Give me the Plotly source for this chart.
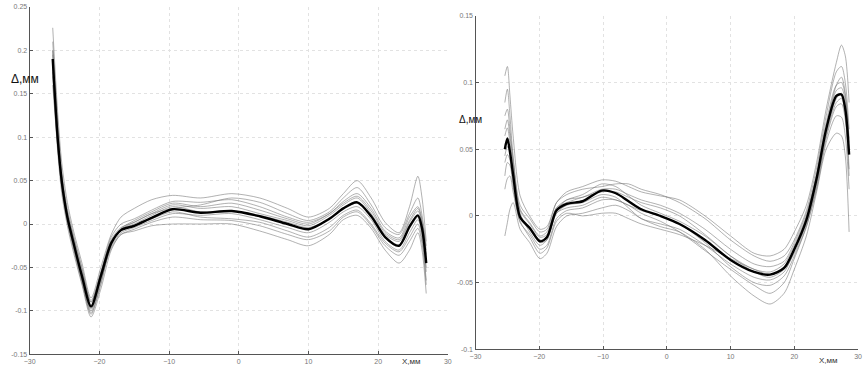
import plotly.graph_objects as go

# ---------------- Left panel data ----------------
L_X = [-26.7, -26.0, -25.4, -24.6, -23.8, -22.5, -21.2, -19.8, -18.3, -16.9, -15.0, -12.5, -9.5, -5.5,
       -1.0, 3.0, 7.0, 10.0, 13.0, 15.0, 17.0, 19.0, 21.0, 23.0, 24.5, 25.7, 26.3, 26.9]
L_MEAN = [0.19, 0.10, 0.049, 0.008, -0.019, -0.060, -0.095, -0.060, -0.022, -0.007, -0.002, 0.007, 0.017, 0.013,
          0.015, 0.009, 0.000, -0.006, 0.006, 0.018, 0.025, 0.009, -0.015, -0.025, -0.003, 0.010, -0.005, -0.045]
L1 = [0.226, 0.13, 0.07, 0.025, -0.005, -0.045, -0.085, -0.05, -0.012, 0.008, 0.018, 0.028, 0.033, 0.030,
      0.035, 0.030, 0.018, 0.008, 0.018, 0.035, 0.050, 0.030, 0.002, -0.010, 0.020, 0.055, 0.030, -0.020]
L2 = [0.17, 0.085, 0.035, -0.002, -0.030, -0.070, -0.107, -0.075, -0.030, -0.012, -0.008, -0.002, 0.000, 0.000,
      0.000, -0.008, -0.018, -0.025, -0.012, 0.005, 0.010, -0.005, -0.030, -0.045, -0.030, -0.010, -0.030, -0.080]
L3 = [0.20, 0.11, 0.055, 0.012, -0.015, -0.055, -0.090, -0.058, -0.018, -0.004, 0.002, 0.012, 0.022, 0.018,
      0.020, 0.012, 0.004, -0.002, 0.010, 0.022, 0.030, 0.012, -0.012, -0.020, 0.002, 0.015, 0.000, -0.035]
L4 = [0.18, 0.095, 0.045, 0.005, -0.022, -0.064, -0.100, -0.065, -0.026, -0.010, -0.004, 0.004, 0.012, 0.010,
      0.012, 0.005, -0.004, -0.010, 0.002, 0.014, 0.020, 0.005, -0.020, -0.030, -0.010, 0.005, -0.012, -0.055]
L5 = [0.21, 0.12, 0.060, 0.018, -0.010, -0.050, -0.088, -0.055, -0.015, 0.000, 0.006, 0.016, 0.026, 0.025,
      0.028, 0.020, 0.008, 0.002, 0.012, 0.026, 0.035, 0.018, -0.008, -0.016, 0.008, 0.020, 0.005, -0.030]
L6 = [0.185, 0.10, 0.050, 0.010, -0.018, -0.058, -0.093, -0.062, -0.020, -0.006, 0.000, 0.010, 0.020, 0.014,
      0.015, 0.010, 0.002, -0.004, 0.006, 0.018, 0.024, 0.010, -0.014, -0.024, -0.005, 0.008, -0.008, -0.050]
L7 = [0.195, 0.105, 0.045, 0.004, -0.024, -0.066, -0.104, -0.068, -0.024, -0.008, -0.002, 0.006, 0.014, 0.008,
      0.006, 0.002, -0.008, -0.015, -0.004, 0.010, 0.016, 0.000, -0.022, -0.032, -0.015, 0.000, -0.018, -0.065]
L8 = [0.175, 0.095, 0.052, 0.014, -0.012, -0.052, -0.090, -0.056, -0.020, -0.005, 0.004, 0.014, 0.024, 0.020,
      0.024, 0.016, 0.006, 0.000, 0.012, 0.024, 0.032, 0.015, -0.010, -0.018, 0.004, 0.018, 0.002, -0.040]
L9 = [0.20, 0.11, 0.048, 0.006, -0.020, -0.062, -0.098, -0.064, -0.028, -0.012, -0.006, 0.002, 0.008, 0.005,
      0.004, -0.002, -0.012, -0.018, -0.008, 0.008, 0.014, -0.002, -0.025, -0.036, -0.020, -0.005, -0.022, -0.070]
L10 = [0.16, 0.09, 0.042, 0.002, -0.026, -0.068, -0.102, -0.070, -0.022, -0.006, 0.002, 0.012, 0.018, 0.022,
       0.030, 0.025, 0.012, 0.004, 0.014, 0.030, 0.042, 0.022, -0.004, -0.012, 0.012, 0.030, 0.010, -0.025]
L_GRAY = [L1, L2, L3, L4, L5, L6, L7, L8, L9, L10]

# ---------------- Right panel data ----------------
R_X = [-25.4, -25.0, -24.6, -24.1, -23.0, -21.5, -19.9, -18.8, -17.3, -15.7, -13.2, -10.2, -8.0, -6.0, -4.0,
       -1.0, 2.0, 6.0, 10.0, 13.7, 16.2, 18.4, 20.0, 21.9, 23.5, 25.0, 26.6, 27.4, 28.0, 28.6]
R_MEAN = [0.050, 0.058, 0.048, 0.031, -0.001, -0.009, -0.019, -0.016, 0.004, 0.009, 0.011, 0.019, 0.017, 0.011, 0.005,
          0.000, -0.006, -0.018, -0.033, -0.042, -0.044, -0.039, -0.025, -0.003, 0.028, 0.065, 0.090, 0.091, 0.080, 0.046]
R1 = [0.105, 0.112, 0.09, 0.06, 0.015, 0.000, -0.010, -0.008, 0.010, 0.018, 0.022, 0.027, 0.026, 0.022, 0.018,
      0.015, 0.012, 0.000, -0.015, -0.028, -0.030, -0.025, -0.012, 0.008, 0.040, 0.080, 0.115, 0.128, 0.120, 0.085]
R2 = [-0.015, -0.005, 0.005, 0.010, -0.010, -0.020, -0.032, -0.028, -0.008, 0.000, 0.002, 0.006, 0.008, 0.004, -0.002,
      -0.008, -0.012, -0.025, -0.045, -0.060, -0.066, -0.058, -0.040, -0.015, 0.018, 0.050, 0.062, 0.060, 0.045, -0.012]
R3 = [0.065, 0.072, 0.060, 0.040, 0.005, -0.005, -0.015, -0.012, 0.006, 0.012, 0.016, 0.024, 0.022, 0.015, 0.008,
      0.002, -0.004, -0.015, -0.030, -0.040, -0.042, -0.036, -0.022, 0.000, 0.032, 0.070, 0.098, 0.100, 0.090, 0.055]
R4 = [0.030, 0.040, 0.038, 0.022, -0.005, -0.014, -0.025, -0.022, -0.002, 0.004, 0.006, 0.012, 0.012, 0.008, 0.004,
      0.000, -0.006, -0.020, -0.038, -0.050, -0.052, -0.045, -0.030, -0.008, 0.022, 0.058, 0.082, 0.084, 0.072, 0.030]
R5 = [0.085, 0.095, 0.075, 0.045, 0.008, -0.002, -0.012, -0.010, 0.010, 0.016, 0.020, 0.022, 0.024, 0.024, 0.020,
      0.016, 0.010, -0.002, -0.018, -0.030, -0.034, -0.030, -0.018, 0.004, 0.036, 0.075, 0.108, 0.112, 0.100, 0.065]
R6 = [0.045, 0.052, 0.048, 0.030, 0.000, -0.008, -0.018, -0.016, 0.002, 0.008, 0.010, 0.016, 0.014, 0.006, -0.002,
      -0.006, -0.010, -0.022, -0.036, -0.046, -0.048, -0.042, -0.026, -0.005, 0.026, 0.062, 0.088, 0.092, 0.082, 0.048]
R7 = [0.060, 0.066, 0.055, 0.036, 0.002, -0.012, -0.022, -0.018, 0.004, 0.012, 0.014, 0.020, 0.020, 0.016, 0.012,
      0.008, 0.002, -0.010, -0.025, -0.036, -0.038, -0.034, -0.020, 0.002, 0.030, 0.066, 0.094, 0.096, 0.086, 0.050]
R8 = [0.020, 0.028, 0.030, 0.018, -0.004, -0.016, -0.028, -0.024, -0.004, 0.002, 0.000, 0.002, 0.002, -0.002, -0.006,
      -0.010, -0.014, -0.022, -0.032, -0.040, -0.044, -0.040, -0.028, -0.006, 0.024, 0.060, 0.085, 0.088, 0.076, 0.035]
R9 = [0.075, 0.080, 0.065, 0.042, 0.004, -0.006, -0.016, -0.014, 0.006, 0.010, 0.014, 0.018, 0.018, 0.014, 0.010,
      0.006, 0.000, -0.014, -0.030, -0.042, -0.046, -0.040, -0.024, -0.002, 0.028, 0.066, 0.098, 0.104, 0.092, 0.058]
R10 = [0.040, 0.046, 0.042, 0.026, -0.002, -0.010, -0.020, -0.018, 0.002, 0.006, 0.008, 0.014, 0.012, 0.008, 0.002,
       -0.004, -0.012, -0.026, -0.040, -0.052, -0.058, -0.050, -0.032, -0.008, 0.020, 0.055, 0.075, 0.074, 0.060, 0.020]
R_GRAY = [R1, R2, R3, R4, R5, R6, R7, R8, R9, R10]

X_TICKS = [-30, -20, -10, 0, 10, 20, 30]
L_YTICKS = [-0.15, -0.1, -0.05, 0, 0.05, 0.1, 0.15, 0.2, 0.25]
L_YTEXT = ["-0.15", "-0.1", "-0.05", "0", "0.05", "0.1", "0.15", "0.2", "0.25"]
R_YTICKS = [-0.1, -0.05, 0, 0.05, 0.1, 0.15]
R_YTEXT = ["-0.1", "-0.05", "0", "0.05", "0.1", "0.15"]

Y_TITLE = "Δ,мм"
X_TITLE = "X,мм"

GRAY_LINE = dict(color="rgba(115,115,115,0.7)", width=0.8, shape="spline", smoothing=0.8)
MEAN_LINE = dict(color="#000000", width=2.4, shape="spline", smoothing=0.8)

fig = go.Figure()
for ys in L_GRAY:
    fig.add_trace(go.Scatter(x=L_X, y=ys, mode="lines", xaxis="x", yaxis="y", line=GRAY_LINE,
                             hoverinfo="skip", showlegend=False))
fig.add_trace(go.Scatter(x=L_X, y=L_MEAN, mode="lines", xaxis="x", yaxis="y", line=MEAN_LINE, showlegend=False))
for ys in R_GRAY:
    fig.add_trace(go.Scatter(x=R_X, y=ys, mode="lines", xaxis="x2", yaxis="y2", line=GRAY_LINE,
                             hoverinfo="skip", showlegend=False))
fig.add_trace(go.Scatter(x=R_X, y=R_MEAN, mode="lines", xaxis="x2", yaxis="y2", line=MEAN_LINE, showlegend=False))

W, H = 865, 372
tickfont = dict(family="Liberation Sans Narrow, Liberation Sans, Arial", size=7, color="#777777")
common = dict(showgrid=True, gridcolor="#e2e2e2", griddash="dot", gridwidth=1, showline=True,
              linecolor="#555555", linewidth=1.2, ticks="inside", ticklen=3, tickcolor="#555555",
              tickfont=tickfont, zeroline=False, fixedrange=True)

fig.update_layout(
    width=W, height=H,
    margin=dict(l=0, r=0, t=0, b=0),
    paper_bgcolor="white", plot_bgcolor="white",
    xaxis=dict(domain=[24 / W, 447 / W], anchor="y", range=[-30, 30], tickvals=X_TICKS, **common),
    yaxis=dict(domain=[1 - 357 / H, 1 - 3 / H], anchor="x", range=[-0.15, 0.25], tickvals=L_YTICKS,
               ticktext=L_YTEXT, **common),
    xaxis2=dict(domain=[475 / W, 862 / W], anchor="y2", range=[-30, 30], tickvals=X_TICKS, **common),
    yaxis2=dict(domain=[1 - 352 / H, 1 - 12 / H], anchor="x2", range=[-0.1, 0.15], tickvals=R_YTICKS,
                ticktext=R_YTEXT, **common),
    annotations=[
        dict(text=Y_TITLE, x=3 / W, y=1 - 76 / H, xref="paper", yref="paper", showarrow=False,
             xanchor="left", yanchor="middle", font=dict(family="Liberation Sans", size=12, color="#111111")),
        dict(text=Y_TITLE, x=456 / W, y=1 - 118 / H, xref="paper", yref="paper", showarrow=False,
             xanchor="left", yanchor="middle", font=dict(family="Liberation Sans", size=10, color="#111111")),
        dict(text=X_TITLE, x=410 / W, y=1 - 364 / H, xref="paper", yref="paper", showarrow=False,
             xanchor="center", yanchor="middle",
             font=dict(family="Liberation Sans Narrow, Liberation Sans", size=8, color="#333333")),
        dict(text=X_TITLE, x=832 / W, y=1 - 363 / H, xref="paper", yref="paper", showarrow=False,
             xanchor="center", yanchor="middle",
             font=dict(family="Liberation Sans Narrow, Liberation Sans", size=8, color="#333333")),
    ],
)

fig.write_html("out.html", config={"displayModeBar": False},
               post_script="document.body.style.margin='0';document.body.style.overflow='hidden';")
